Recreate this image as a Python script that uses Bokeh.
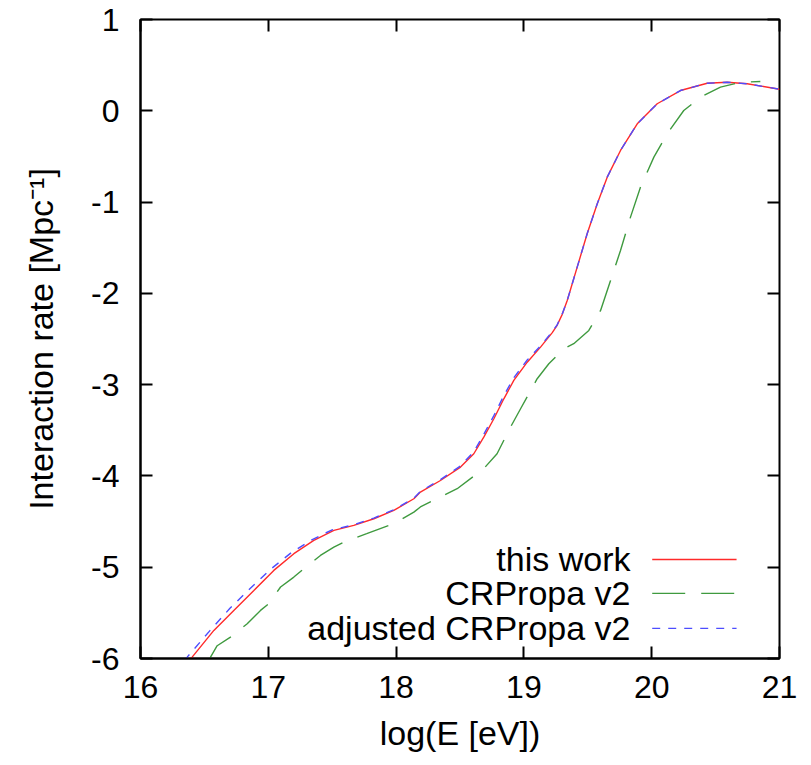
from bokeh.plotting import figure
from bokeh.models import Range1d, LinearAxis, Label, FixedTicker, CustomJSTickFormatter
from bokeh.embed import file_html
from bokeh.resources import INLINE

# ---- data ----
this_work_logE = [16.38, 16.404, 16.574, 16.73, 16.887, 17.043, 17.20, 17.356, 17.513, 17.669,
                  17.826, 17.982, 18.139, 18.19, 18.347, 18.504, 18.608, 18.686, 18.765, 18.843,
                  18.921, 19.026, 19.13, 19.222, 19.26, 19.30, 19.339, 19.417, 19.495, 19.574,
                  19.652, 19.756, 19.887, 20.043, 20.225, 20.434, 20.59, 20.747, 21.00]
this_work_rate = [-6.02, -5.985, -5.692, -5.473, -5.254, -5.035, -4.852, -4.706, -4.597, -4.542,
                  -4.469, -4.378, -4.250, -4.177, -4.05, -3.903, -3.757, -3.575, -3.374, -3.155,
                  -2.954, -2.754, -2.589, -2.43, -2.35, -2.23, -2.078, -1.713, -1.347, -1.019,
                  -0.727, -0.435, -0.143, 0.077, 0.222, 0.302, 0.313, 0.296, 0.236]

crpropa_logE = [16.54, 16.548, 16.60, 16.704, 16.835, 16.939, 17.004, 17.096, 17.20, 17.278,
                17.408, 17.513, 17.59, 17.77, 17.98, 18.139, 18.19, 18.347, 18.478, 18.686,
                18.79, 18.895, 18.974, 19.104, 19.195, 19.312, 19.39, 19.508, 19.60, 19.678,
                19.756, 19.834, 19.912, 20.017, 20.121, 20.251, 20.382, 20.538, 20.695, 20.85]
crpropa_rate = [-6.02, -5.985, -5.86, -5.765, -5.619, -5.473, -5.40, -5.217, -5.108, -5.016,
                -4.871, -4.78, -4.725, -4.633, -4.524, -4.397, -4.34, -4.23, -4.14, -3.92,
                -3.757, -3.466, -3.264, -2.935, -2.771, -2.607, -2.552, -2.406, -2.187, -1.859,
                -1.53, -1.165, -0.837, -0.508, -0.252, 0.003, 0.149, 0.259, 0.313, 0.32]

adjusted_logE = [16.34, 16.365, 16.54, 16.70, 16.86, 17.02, 17.18, 17.34, 17.50, 17.669,
                 17.826, 17.982, 18.139, 18.19, 18.347, 18.504, 18.608, 18.686, 18.765, 18.843,
                 18.921, 19.026, 19.13, 19.222, 19.26, 19.30, 19.339, 19.417, 19.495, 19.574,
                 19.652, 19.756, 19.887, 20.043, 20.225, 20.434, 20.59, 20.747, 21.00]
adjusted_rate = [-6.02, -5.985, -5.70, -5.45, -5.23, -5.02, -4.84, -4.70, -4.59, -4.535,
                 -4.462, -4.370, -4.243, -4.170, -4.04, -3.89, -3.735, -3.545, -3.34, -3.12,
                 -2.925, -2.73, -2.575, -2.42, -2.345, -2.225, -2.078, -1.713, -1.347, -1.019,
                 -0.727, -0.435, -0.143, 0.077, 0.222, 0.302, 0.313, 0.296, 0.236]

series_names = ["this work", "CRPropa v2", "adjusted CRPropa v2"]
x_ticks = [16, 17, 18, 19, 20, 21]
y_ticks = [-6, -5, -4, -3, -2, -1, 0, 1]

FONT = "Liberation Sans"
FS_TICK = "32px"
FS_LABEL = "34px"
RED, GREEN, BLUE = "#ff2a2a", "#3f9a3f", "#4d4dff"
LW = 1.4

p = figure(width=811, height=765, x_range=Range1d(16, 21), y_range=Range1d(-6, 1),
           output_backend="svg", toolbar_location=None,
           min_border_left=140, min_border_right=32, min_border_top=19, min_border_bottom=107)
p.xgrid.visible = False
p.ygrid.visible = False
p.outline_line_color = "black"
p.outline_line_width = 2
p.background_fill_color = "white"
p.border_fill_color = "white"

def style_axis(ax, show_labels=True):
    ax.major_tick_in = 12
    ax.major_tick_out = 0
    ax.minor_tick_in = 0
    ax.minor_tick_out = 0
    ax.major_tick_line_width = 2
    ax.major_tick_line_color = "black"
    ax.axis_line_width = 2
    ax.axis_line_color = "black"
    ax.major_label_text_font = FONT
    ax.major_label_text_color = "black"
    ax.axis_label_text_font = FONT
    ax.axis_label_text_font_style = "normal"
    ax.axis_label_text_color = "black"
    if show_labels:
        ax.major_label_text_font_size = FS_TICK
        ax.axis_label_text_font_size = FS_LABEL
    else:
        ax.formatter = CustomJSTickFormatter(code="return '';")
        ax.major_label_text_font_size = "1px"
        ax.major_label_standoff = 0
        ax.axis_line_color = None

xa = p.xaxis[0]
ya = p.yaxis[0]
xa.ticker = FixedTicker(ticks=x_ticks)
ya.ticker = FixedTicker(ticks=y_ticks)
style_axis(xa)
style_axis(ya)
xa.major_label_overrides = {t: str(t) for t in x_ticks}
ya.major_label_overrides = {t: str(t) for t in y_ticks}
xa.axis_label = "log(E [eV])"
ya.axis_label = "Interaction rate [Mpc\u207b\u00b9]"
xa.major_label_standoff = 17
ya.major_label_standoff = 21
xa.axis_label_standoff = 13
ya.axis_label_standoff = 28

top = LinearAxis(ticker=FixedTicker(ticks=x_ticks))
right = LinearAxis(ticker=FixedTicker(ticks=y_ticks))
style_axis(top, False)
style_axis(right, False)
p.add_layout(top, "above")
p.add_layout(right, "right")

# curves
p.line(this_work_logE, this_work_rate, line_color=RED, line_width=LW)
p.line(crpropa_logE, crpropa_rate, line_color=GREEN, line_width=LW, line_dash="33 16")
p.line(adjusted_logE, adjusted_rate, line_color=BLUE, line_width=LW, line_dash="8 8")

# legend (label on the left, sample on the right)
LEG_TEXT_X = 19.834
LEG_LINE_X0, LEG_LINE_X1 = 20.004, 20.664
LEG_Y = [-4.915, -5.287, -5.670]
styles = [(RED, "solid"), (GREEN, "33 16"), (BLUE, "8 8")]
for name, yy, (col, dash) in zip(series_names, LEG_Y, styles):
    p.add_layout(Label(x=LEG_TEXT_X, y=yy, text=name, text_align="right", text_baseline="middle",
                       text_font=FONT, text_font_size=FS_LABEL, text_color="black"))
    p.line([LEG_LINE_X0, LEG_LINE_X1], [yy, yy], line_color=col, line_width=LW, line_dash=dash)

open("out.html", "w").write(file_html(p, INLINE))
